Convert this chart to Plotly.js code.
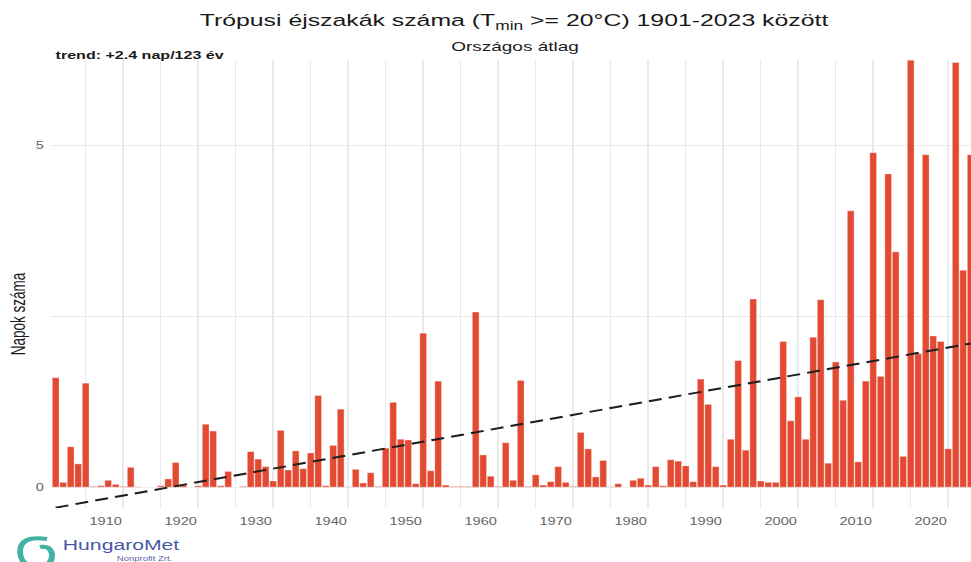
<!DOCTYPE html>
<html>
<head>
<meta charset="utf-8">
<script src="https://cdn.plot.ly/plotly-3.0.1.min.js"></script>
<style>
  html, body { margin: 0; padding: 0; background: #ffffff; }
  #wrap { width: 971px; height: 562px; overflow: hidden; position: relative; }
  #chart { width: 665px; height: 562px; transform: scaleX(1.46015); transform-origin: 0 0; }
</style>
</head>
<body>
<div id="wrap"><div id="chart"></div></div>
<script>
// ---- data ----
const years = [
  1901,1902,1903,1904,1905,1906,1907,1908,1909,1910,
  1911,1912,1913,1914,1915,1916,1917,1918,1919,1920,
  1921,1922,1923,1924,1925,1926,1927,1928,1929,1930,
  1931,1932,1933,1934,1935,1936,1937,1938,1939,1940,
  1941,1942,1943,1944,1945,1946,1947,1948,1949,1950,
  1951,1952,1953,1954,1955,1956,1957,1958,1959,1960,
  1961,1962,1963,1964,1965,1966,1967,1968,1969,1970,
  1971,1972,1973,1974,1975,1976,1977,1978,1979,1980,
  1981,1982,1983,1984,1985,1986,1987,1988,1989,1990,
  1991,1992,1993,1994,1995,1996,1997,1998,1999,2000,
  2001,2002,2003,2004,2005,2006,2007,2008,2009,2010,
  2011,2012,2013,2014,2015,2016,2017,2018,2019,2020,
  2021,2022,2023
];
const tropicalNights = [
  1.60,0.07,0.59,0.34,1.52,0.01,0.02,0.10,0.04,0.01,
  0.29,0.005,0,0,0.02,0.12,0.36,0.03,0,0.02,
  0.92,0.82,0.02,0.23,0,0.01,0.52,0.41,0.30,0.09,
  0.83,0.25,0.53,0.27,0.50,1.34,0.02,0.61,1.14,0.005,
  0.26,0.06,0.21,0.01,0.57,1.24,0.70,0.69,0.05,2.25,
  0.24,1.55,0.03,0.01,0.01,0.01,2.56,0.47,0.16,0.01,
  0.65,0.10,1.56,0.01,0.18,0.03,0.08,0.30,0.07,0.01,
  0.80,0.56,0.15,0.39,0.005,0.05,0,0.10,0.13,0.03,
  0.30,0.02,0.40,0.38,0.31,0.08,1.58,1.21,0.30,0.03,
  0.70,1.85,0.54,2.75,0.09,0.07,0.07,2.13,0.97,1.32,
  0.70,2.19,2.74,0.35,1.83,1.27,4.04,0.37,1.55,4.89,
  1.62,4.58,3.44,0.45,6.24,1.95,4.86,2.21,2.13,0.56,
  6.21,3.17,4.86
];
const trendYears = [1901, 2023];
const trendValues = [-0.30, 2.10];
const xGridVals = [1905,1910,1915,1920,1925,1930,1935,1940,1945,1950,1955,1960,1965,1970,
                   1975,1980,1985,1990,1995,2000,2005,2010,2015,2020];
const xTickText = ['','1910','','1920','','1930','','1940','','1950','','1960','','1970',
                   '','1980','','1990','','2000','','2010','','2020'];
const yGridVals = [0, 2.5, 5];
const yTickText = ['0', '', '5'];

// ---- layout helpers (reference pixel -> paper coordinates) ----
const S = 971 / 665, ML = 35, PW = 665 - 35, PB = 508, PH = 448;
const px = X => (X / S - ML) / PW;
const py = Y => (PB - Y) / PH;

const FONT = 'Liberation Sans, Arial, sans-serif';

const bars = {
  type: 'bar', x: years, y: tropicalNights,
  marker: { color: '#E34A33', line: { color: 'rgba(255,255,255,0.55)', width: 0.5 } },
  hoverinfo: 'x+y'
};
const trend = {
  type: 'scatter', mode: 'lines', x: trendYears, y: trendValues,
  line: { color: '#1f1f1f', width: 2, dash: '9px,5px' },
  hoverinfo: 'skip'
};

const swirl = 'M ' + px(47) + ',' + py(539) +
  ' Q ' + px(20) + ',' + py(535) + ' ' + px(20) + ',' + py(552) +
  ' Q ' + px(21) + ',' + py(567) + ' ' + px(38) + ',' + py(567) +
  ' Q ' + px(53) + ',' + py(566) + ' ' + px(52) + ',' + py(554) +
  ' Q ' + px(50) + ',' + py(545) + ' ' + px(40) + ',' + py(547);

const layout = {
  width: 665, height: 562,
  margin: { l: ML, r: 0, t: 60, b: 54, pad: 0 },
  paper_bgcolor: '#ffffff', plot_bgcolor: '#ffffff',
  showlegend: false,
  bargap: 0.1,
  font: { family: FONT, color: '#1a1a1a' },
  title: {
    text: 'Trópusi éjszakák száma (T<sub>min</sub> &gt;= 20°C) 1901-2023 között',
    x: 514 / 971, xanchor: 'center', xref: 'container',
    y: 1 - 20 / 562, yanchor: 'middle', yref: 'container',
    font: { family: FONT, size: 17, color: '#1a1a1a' }
  },
  xaxis: {
    range: [1900.39, 2023.04],
    tickmode: 'array', tickvals: xGridVals, ticktext: xTickText,
    showgrid: true, gridcolor: '#e9e9e9', gridwidth: 1,
    zeroline: false, showline: false, ticks: '',
    tickfont: { family: FONT, size: 10, color: '#666666' },
    ticklabelshift: -12, ticklabelstandoff: 6,
    fixedrange: true
  },
  yaxis: {
    range: [-0.305, 6.245],
    tickmode: 'array', tickvals: yGridVals, ticktext: yTickText,
    showgrid: true, gridcolor: '#e9e9e9', gridwidth: 1,
    zeroline: false, showline: false, ticks: '',
    tickfont: { family: FONT, size: 10, color: '#666666' },
    ticklabelstandoff: 4,
    fixedrange: true
  },
  annotations: [
    { text: 'Országos átlag', xref: 'paper', yref: 'paper', x: px(514), y: py(46),
      xanchor: 'center', yanchor: 'middle', showarrow: false,
      font: { family: FONT, size: 13, color: '#1a1a1a' } },
    { text: '<b>trend: +2.4 nap/123 év</b>', xref: 'paper', yref: 'paper', x: px(52), y: py(55),
      xanchor: 'left', yanchor: 'middle', showarrow: false,
      font: { family: FONT, size: 11, color: '#1a1a1a' } },
    { text: 'Napok száma', xref: 'paper', yref: 'paper', x: px(18), y: py(314),
      xanchor: 'center', yanchor: 'middle', textangle: -90, showarrow: false,
      font: { family: FONT, size: 13.5, color: '#1a1a1a' } },
    { text: 'HungaroMet', xref: 'paper', yref: 'paper', x: px(121), y: py(545),
      xanchor: 'center', yanchor: 'middle', showarrow: false,
      font: { family: FONT, size: 14.5, color: '#4a57a8' } },
    { text: 'Nonprofit Zrt.', xref: 'paper', yref: 'paper', x: px(145), y: py(558.5),
      xanchor: 'center', yanchor: 'middle', showarrow: false,
      font: { family: FONT, size: 6.5, color: '#5a5fa8' } }
  ],
  shapes: [
    { type: 'path', xref: 'paper', yref: 'paper', path: swirl, layer: 'above',
      line: { color: '#43b2a4', width: 4 } }
  ]
};

Plotly.newPlot('chart', [bars, trend], layout, { displayModeBar: false, staticPlot: true });
</script>
</body>
</html>
